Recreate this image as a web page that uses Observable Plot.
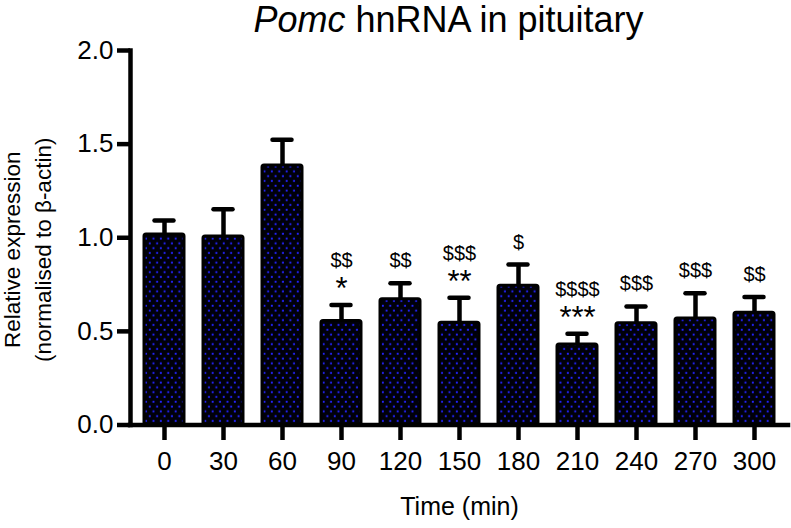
<!DOCTYPE html>
<html>
<head>
<meta charset="utf-8">
<script src="https://cdn.jsdelivr.net/npm/d3@7"></script>
<script src="https://cdn.jsdelivr.net/npm/@observablehq/plot@0.6"></script>
<style>
  body { margin: 0; background: white; }
  #title { width: 791px; height: 40px; box-sizing: border-box; padding-left: 106px; text-align: center;
           font-family: "Liberation Sans", Arial, sans-serif; font-size: 36px; line-height: 40px; color: black; white-space: nowrap; }
  #chart svg { display: block; overflow: visible; }
  #chart [aria-label="y-axis tick"], #chart [aria-label="y-axis tick"] *,
  #chart [aria-label="x-axis tick"], #chart [aria-label="x-axis tick"] *,
  #chart [aria-label="frame"], #chart [aria-label="frame"] * { stroke-width: 4.5px !important; stroke: black !important; }
  #chart [aria-label="y-axis tick label"], #chart [aria-label="y-axis tick label"] text,
  #chart [aria-label="x-axis tick label"], #chart [aria-label="x-axis tick label"] text { font-size: 26px !important; fill: black; }
</style>
</head>
<body>
<div id="title"><i>Pomc</i> hnRNA in pituitary</div>
<div id="chart"></div>
<script>
const times = ["0", "30", "60", "90", "120", "150", "180", "210", "240", "270", "300"];
const means = [1.017, 1.007, 1.386, 0.556, 0.672, 0.546, 0.743, 0.430, 0.544, 0.569, 0.599];
const errors = [0.075, 0.145, 0.137, 0.085, 0.085, 0.133, 0.114, 0.057, 0.089, 0.135, 0.084];
const stars = ["", "", "", "*", "", "**", "", "***", "", "", ""];
const dollars = ["", "", "", "$$", "$$", "$$$", "$", "$$$$", "$$$", "$$$", "$$"];
const yTicks = [0, 0.5, 1, 1.5, 2];

const data = times.map((t, i) => ({time: t, mean: means[i], err: errors[i], stars: stars[i], dollars: dollars[i]}));
const capOf = d => d.mean + d.err;

const font = "Liberation Sans, Arial, sans-serif";
const svg = Plot.plot({
  width: 791, height: 488,
  marginLeft: 130, marginRight: 3, marginTop: 10, marginBottom: 103.5,
  x: {domain: times, paddingInner: 0.32, paddingOuter: 0.16, axis: null},
  y: {domain: [0, 2], axis: null},
  style: {fontFamily: font, background: "white", color: "black", overflow: "visible"},
  marks: [
    Plot.barY(data, {x: "time", y: "mean", fill: "url(#dots)", stroke: "black", strokeWidth: 3, rx: 2}),
    Plot.ruleX(data, {x: "time", y1: "mean", y2: capOf, stroke: "black", strokeWidth: 4.5}),
    Plot.tickY(data, {x: "time", y: capOf, stroke: "black", strokeWidth: 4.5, strokeLinecap: "round", insetLeft: 10.5, insetRight: 10.5}),
    Plot.text(data.filter(d => d.stars), {x: "time", y: capOf, text: "stars", lineAnchor: "bottom", dy: -6, fontSize: 31}),
    Plot.text(data.filter(d => d.stars), {x: "time", y: capOf, text: "dollars", lineAnchor: "bottom", dy: -38, fontSize: 20}),
    Plot.text(data.filter(d => !d.stars && d.dollars), {x: "time", y: capOf, text: "dollars", lineAnchor: "bottom", dy: -16, fontSize: 20}),
    Plot.axisY({ticks: yTicks, tickFormat: d3.format(".1f"), tickSize: 13, tickPadding: 4, strokeWidth: 4.5, fontSize: 26, label: null}),
    Plot.axisX({tickSize: 15.5, tickPadding: 11, strokeWidth: 4.5, fontSize: 26, label: null}),
    Plot.ruleY([0], {stroke: "black", strokeWidth: 4.5, strokeLinecap: "square"}),
    Plot.frame({anchor: "left", stroke: "black", strokeWidth: 4.5}),
    Plot.text(["Relative expression\n(normalised to β-actin)"], {text: d => d, frameAnchor: "left", textAnchor: "middle", rotate: -90, dx: -105, dy: 12, fontSize: 22.5, lineHeight: 1.4}),
    Plot.text(["Time (min)"], {text: d => d, frameAnchor: "bottom", dy: 90, fontSize: 25})
  ]
});

const defs = d3.select(svg).insert("defs", ":first-child");
const pat = defs.append("pattern").attr("id", "dots").attr("patternUnits", "userSpaceOnUse")
  .attr("width", 7.4).attr("height", 9.6);
pat.append("rect").attr("width", 7.4).attr("height", 9.6).attr("fill", "#00000a");
pat.append("rect").attr("x", 0.8).attr("y", 0.8).attr("width", 1.9).attr("height", 1.9).attr("fill", "#2424ff");
pat.append("rect").attr("x", 4.5).attr("y", 5.6).attr("width", 1.9).attr("height", 1.9).attr("fill", "#2424ff");

document.getElementById("chart").appendChild(svg);
</script>
</body>
</html>
